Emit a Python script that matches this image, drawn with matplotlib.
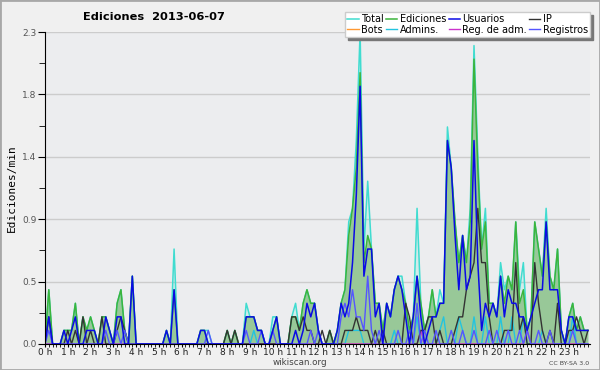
"""
Ediciones por día (wikiscan) — edits/min in 10-minute bins, 2013-06-07.
"""
import matplotlib
matplotlib.use("Agg")
import matplotlib.pyplot as plt
import numpy as np
from matplotlib.patches import Rectangle

# one row per hour, six 10-minute bins each
total = [
    0, .4, 0, 0, 0, .1,      .1, .1, .3, 0, .2, .1,
    .2, .1, 0, .2, .2, .1,   0, .3, .4, .1, 0, .5,
    0, 0, 0, 0, 0, 0,        0, 0, .1, 0, .7, 0,
    0, 0, 0, 0, 0, .1,       .1, .1, 0, 0, 0, 0,
    .1, 0, .1, 0, 0, .3,     .2, .2, .1, .1, 0, 0,
    .2, .2, 0, 0, 0, .2,     .3, .1, .3, .4, .3, .3,
    .1, 0, 0, .1, 0, .1,     .3, .4, .9, 1.0, 1.5, 2.3,
    .7, 1.2, .7, .3, .3, .1, .3, .2, .4, .5, .5, .3,
    .1, .2, 1.0, .3, .1, .2, .4, .2, .4, .3, 1.6, 1.3,
    .9, .6, .8, .6, 1.0, 2.2, 1.4, .7, 1.0, .3, .3, .2,
    .6, .4, .5, .4, .9, .4,  .6, .1, .2, .9, .7, .5,
    1.0, .5, .4, .7, .1, 0,  .2, .3, .1, .2, .1, .1,
]
ediciones = [
    0, .4, 0, 0, 0, .1,      .1, .1, .3, 0, .2, .1,
    .2, .1, 0, .2, .2, .1,   0, .3, .4, .1, 0, .5,
    0, 0, 0, 0, 0, 0,        0, 0, .1, 0, .4, 0,
    0, 0, 0, 0, 0, .1,       .1, 0, 0, 0, 0, 0,
    .1, 0, .1, 0, 0, .2,     .2, .2, .1, .1, 0, 0,
    .1, .2, 0, 0, 0, .2,     .2, .1, .3, .4, .3, .3,
    .1, 0, 0, .1, 0, .1,     .3, .4, .8, 1.0, 1.3, 2.0,
    .6, .8, .7, .3, .3, .1,  .3, .2, .4, .5, .4, .3,
    .1, .2, .5, .3, .1, .2,  .4, .2, .3, .3, 1.5, 1.3,
    .9, .6, .8, .6, .9, 2.1, 1.3, .7, .9, .3, .3, .2,
    .5, .3, .5, .4, .9, .3,  .4, .1, .2, .9, .7, .5,
    .9, .5, .4, .7, .1, 0,   .2, .3, .1, .2, .1, .1,
]
usuarios = [
    0, .2, 0, 0, 0, .1,      0, .1, .2, 0, 0, .1,
    .1, .1, 0, 0, .2, .1,    0, .2, .2, 0, 0, .5,
    0, 0, 0, 0, 0, 0,        0, 0, .1, 0, .4, 0,
    0, 0, 0, 0, 0, .1,       .1, 0, 0, 0, 0, 0,
    0, 0, 0, 0, 0, .2,       .2, .2, .1, .1, 0, 0,
    .1, .2, 0, 0, 0, 0,      .1, 0, .1, .3, .2, .3,
    .1, 0, 0, 0, 0, .1,      .3, .2, .3, .6, 1.1, 1.9,
    .5, .7, .7, .2, .3, 0,   .3, .2, .4, .5, .4, .2,
    0, .2, .5, .2, 0, .1,    .2, .2, .3, .3, 1.5, 1.3,
    .8, .4, .8, .4, .5, 1.5, .6, .1, .3, .2, .3, .2,
    .5, .2, .4, .3, .3, .2,  .2, .1, .2, .3, .4, .4,
    .9, .4, .4, .4, .1, 0,   .2, .2, .1, .1, .1, .1,
]
ip = [
    0, .2, 0, 0, 0, 0,       .1, 0, .1, 0, .2, 0,
    .1, 0, 0, .2, 0, 0,      0, .1, .2, .1, 0, 0,
    0, 0, 0, 0, 0, 0,        0, 0, 0, 0, 0, 0,
    0, 0, 0, 0, 0, 0,        0, 0, 0, 0, 0, 0,
    .1, 0, .1, 0, 0, 0,      0, 0, 0, 0, 0, 0,
    0, 0, 0, 0, 0, .2,       .2, .1, .2, .1, .1, 0,
    0, .1, 0, .1, 0, 0,      0, .1, .1, .1, .2, .1,
    .1, .1, 0, .1, 0, .1,    0, 0, 0, 0, 0, .3,
    .2, 0, 0, .1, .1, .2,    .2, 0, .1, 0, 0, 0,
    .1, .2, .2, .4, .5, .6,  1.0, .6, .6, .2, 0, 0,
    0, .1, .1, .1, .6, .1,   .2, 0, 0, .6, .3, .1,
    0, .1, 0, .3, 0, 0,      .1, .1, .2, .1, 0, .1,
]
bots = [0] * 144
admins = [
    0, 0, 0, 0, 0, 0,        0, 0, 0, 0, 0, 0,
    0, 0, 0, 0, 0, 0,        0, 0, 0, 0, 0, 0,
    0, 0, 0, 0, 0, 0,        0, 0, 0, 0, 0, 0,
    0, 0, 0, 0, 0, 0,        0, 0, 0, 0, 0, 0,
    0, 0, 0, 0, 0, 0,        0, .1, 0, 0, 0, 0,
    0, 0, 0, 0, 0, 0,        0, 0, 0, 0, 0, 0,
    0, 0, 0, 0, 0, 0,        0, 0, .1, .1, .1, .1,
    0, 0, 0, 0, 0, 0,        0, 0, .1, 0, 0, 0,
    0, 0, .2, 0, 0, 0,       0, 0, .1, .2, 0, 0,
    0, .2, .1, 0, 0, .2,     0, 0, .2, 0, 0, 0,
    .2, 0, 0, .2, 0, 0,      .2, 0, 0, 0, 0, .1,
    0, 0, 0, 0, 0, 0,        0, .2, 0, 0, 0, 0,
]
reg_adm = [0] * 144
reg_adm[99] = .1
reg_adm[127] = .1
registros = [
    0, .1, 0, 0, 0, 0,       0, 0, 0, 0, 0, 0,
    0, 0, 0, 0, .1, 0,       0, .1, 0, .1, 0, 0,
    0, 0, 0, 0, 0, 0,        0, 0, 0, 0, 0, 0,
    0, 0, 0, 0, 0, 0,        0, .1, 0, 0, 0, 0,
    0, 0, 0, 0, 0, .1,       0, 0, 0, .1, 0, 0,
    .1, 0, 0, 0, 0, 0,       0, 0, 0, 0, .1, 0,
    .1, 0, 0, 0, 0, 0,       .2, .3, .2, .4, .2, .2,
    .1, .5, .1, 0, .1, 0,    0, 0, 0, .1, 0, 0,
    .1, 0, .3, 0, .1, 0,     0, .1, 0, 0, 0, .1,
    0, 0, .1, 0, 0, .1,      0, 0, 0, .1, 0, .1,
    0, 0, .1, 0, 0, .1,      0, .1, 0, 0, .1, 0,
    0, .1, 0, 0, 0, 0,       0, .1, 0, 0, 0, 0,
]

hour_labels = [f"{h} h" for h in range(24)]
YMAX = 2.3

x = np.arange(144)

fig = plt.figure(figsize=(6, 3.7), dpi=100, facecolor="#f0f0f0")
fig.patches.append(Rectangle((0, 0), 1, 1, transform=fig.transFigure,
                             fill=False, edgecolor="#a8a8a8", lw=2))
ax = fig.add_axes([0.075, 0.0703, 0.908, 0.8432])
ax.set_facecolor("#ecedef")

ax.fill_between(x, total, color="#40e0d0", alpha=0.15, lw=0)
ax.fill_between(x, ediciones, color="#98c898", lw=0)
ax.plot(x, total, color="#40dcd0", lw=1.1, label="Total")
ax.plot(x, ediciones, color="#3cb43c", lw=1.1, label="Ediciones")
ax.plot(x, bots, color="#ff9933", lw=1.0, label="Bots")
ax.plot(x, admins, color="#22c4e0", lw=1.0, label="Admins.")
ax.plot(x, reg_adm, color="#cc33cc", lw=1.0, label="Reg. de adm.")
ax.plot(x, ip, color="#333333", lw=1.0, label="IP")
ax.plot(x, registros, color="#5555ff", lw=1.0, label="Registros")
ax.plot(x, usuarios, color="#0a0ae6", lw=1.1, label="Usuarios")

ax.set_xlim(0, 143.5)
ax.set_ylim(0, YMAX)
yt = np.linspace(0, YMAX, 6)
ax.set_yticks(yt)
ax.set_yticklabels([f"{v:.1f}" for v in yt])
ax.set_yticks((yt[:-1] + yt[1:]) / 2, minor=True)
ax.set_xticks(np.arange(0, 144, 6))
ax.set_xticklabels(hour_labels)
ax.set_xticks(x, minor=True)
ax.tick_params(axis="y", which="major", length=5, labelsize=6.5, labelcolor="#555555", pad=1)
ax.tick_params(axis="y", which="minor", length=4)
ax.tick_params(axis="x", which="both", length=2.5, labelsize=6.5, labelcolor="#222222", pad=0.3)
ax.grid(axis="y", color="#cccccc", lw=1)
ax.set_axisbelow(True)
for s in ("top", "right"):
    ax.spines[s].set_visible(False)

ax.set_ylabel("Ediciones/min", family="DejaVu Sans Mono", fontsize=8, labelpad=4)
fig.text(0.256, 0.953, "Ediciones  2013-06-07", ha="center", va="center",
         fontsize=8.2, fontweight="bold")
fig.text(0.5, 0.02, "wikiscan.org", ha="center", va="center", fontsize=6.3, color="#444444")
fig.text(0.982, 0.018, "CC BY-SA 3.0", ha="right", va="center", fontsize=4.5, color="#444444")

h, l = ax.get_legend_handles_labels()
order = ["Total", "Bots", "Ediciones", "Admins.", "Usuarios", "Reg. de adm.", "IP", "Registros"]
hm = dict(zip(l, h))
leg = fig.legend([hm[k] for k in order], order, ncol=4, loc="upper left",
                 bbox_to_anchor=(0.575, 0.968), fontsize=7, frameon=True,
                 fancybox=False, shadow={"color": "#777777", "alpha": 1},
                 edgecolor="#cccccc", facecolor="white", framealpha=1,
                 handlelength=1.15, handletextpad=0.25, columnspacing=0.25,
                 labelspacing=0.05, borderpad=0.25, borderaxespad=0)

fig.savefig("out.png", dpi=100, facecolor=fig.get_facecolor())
